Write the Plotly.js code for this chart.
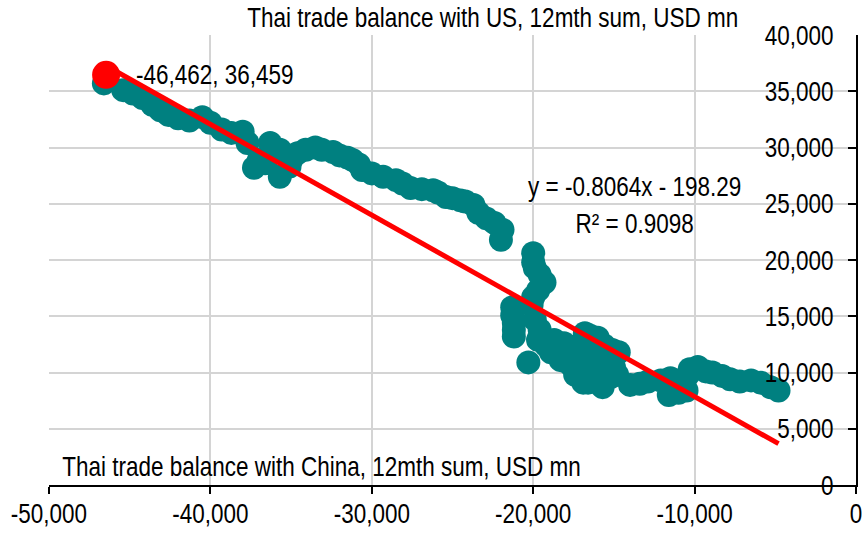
<!DOCTYPE html>
<html><head><meta charset="utf-8">
<script src="https://cdn.plot.ly/plotly-3.0.1.min.js"></script>
<style>html,body{margin:0;padding:0;background:#fff}#chart{width:864px;height:537px}</style>
</head><body><div id="chart"></div>
<script>
// Thai trade balance with China (x) vs with US (y), 12-month sums, USD mn
const chinaBalance = [
  -4800,-5300,-5900,-6500,-7200,-7800,-8300,-8900,-9300,-9800,
  -10300,-10400,-10700,-10500,-11000,-11600,-11600,-11500,-12100,-12900,
  -13400,-14000,-14800,-15200,-15700,-16200,-16600,-16900,-17400,-17100,
  -15000,-15800,-16000,-16500,-17100,-17700,-17900,-18300,-18900,-15500,
  -14700,-15100,-15600,-16000,-16300,-16500,-16800,-17000,-17500,-18100,
  -18500,-18700,-19200,-19700,-20300,-21200,-21200,-21200,-21300,-21300,
  -19600,-19900,-20100,-20000,-19700,-19300,-19600,-19900,-20000,-20000,
  -22000,-21900,-22400,-22900,-23400,-23700,-24200,-24500,-25000,-25400,
  -25900,-26200,-26900,-27600,-28100,-28500,-29300,-30000,-30600,-30800,
  -31200,-31500,-32000,-32400,-33100,-33500,-34100,-34600,-35000,-35100,
  -35700,-35700,-36300,-36600,-37000,-37300,-37700,-38000,-38700,-39300,
  -40000,-40500,-41300,-42000,-42600,-43100,-43600,-44200,-44800,-45400,
  -46600
];
const usBalance = [
  8400,8700,9100,9300,9200,9400,9700,10000,10100,10500,
  10300,9800,9300,8400,8200,8000,8900,9500,9300,9200,
  9000,8900,9800,9600,8700,9300,9100,9100,9800,10200,
  10500,10700,10000,11100,11400,10700,11100,11100,11800,11300,
  11800,12000,12400,13100,12000,13300,13500,11800,12300,12600,
  12200,12900,12400,12900,10900,13200,13800,14400,15100,15800,
  13800,14700,16000,16700,17300,18000,18700,19300,19800,20600,
  21800,22700,23300,23700,24200,24900,25200,25300,25500,25600,
  26000,26200,26300,26400,26800,27100,27400,27700,28000,28500,
  28900,29100,29300,29600,29800,30000,29800,29500,28900,28300,
  27400,29800,30400,28600,28900,28200,30400,31400,31300,31600,
  32200,32700,32400,32600,32900,33300,33800,34400,34800,35100,
  35700
];
const latestChina = [-46462];
const latestUS = [36459];
const trendSlope = -0.8064;
const trendIntercept = -198.29;
const trendR2 = 0.9098;
const xTickVals = [-50000,-40000,-30000,-20000,-10000,0];
const xTickText = ['-50,000','-40,000','-30,000','-20,000','-10,000','0'];
const yTickVals = [0,5000,10000,15000,20000,25000,30000,35000,40000];
const yTickText = ['0','5,000','10,000','15,000','20,000','25,000','30,000','35,000','40,000'];
const xTitle = 'Thai trade balance with China, 12mth sum, USD mn';
const yTitle = 'Thai trade balance with US, 12mth sum, USD mn';

const FONT = "'Liberation Sans', Arial, sans-serif";
const FS = 22.5;
const TEXT_STRETCH = 1.24; // reference uses a tall, narrow sans face

const allX = chinaBalance.concat(latestChina);
const tMin = Math.min.apply(null, allX), tMax = Math.max.apply(null, allX);
const trendX = [tMin, tMax];
const trendY = trendX.map(v => trendSlope * v + trendIntercept);

const fmt = v => v.toLocaleString('en-US');
const eqText = 'y = ' + trendSlope.toFixed(4) + 'x - ' + Math.abs(trendIntercept).toFixed(2) +
  '<br>R² = ' + trendR2.toFixed(4);

const traces = [
  {x: chinaBalance, y: usBalance, type: 'scatter', mode: 'markers',
   marker: {color: '#008080', size: 24, line: {width: 0}}, cliponaxis: false, hoverinfo: 'skip'},
  {x: trendX, y: trendY, type: 'scatter', mode: 'lines',
   line: {color: '#ff0000', width: 5}, hoverinfo: 'skip'},
  {x: latestChina, y: latestUS, type: 'scatter', mode: 'markers',
   marker: {color: '#ff0000', size: 28, line: {width: 0}}, cliponaxis: false, hoverinfo: 'skip'}
];

const layout = {
  width: 864, height: 537,
  margin: {l: 49, r: 8, t: 35, b: 52},
  paper_bgcolor: '#ffffff', plot_bgcolor: '#ffffff',
  showlegend: false, hovermode: false,
  font: {family: FONT, size: FS, color: '#000000'},
  xaxis: {
    range: [-50000, 0], tickmode: 'array', tickvals: xTickVals, ticktext: xTickText,
    showgrid: true, gridcolor: '#d4d4d4', gridwidth: 2, zeroline: false,
    showline: true, linecolor: '#000000', linewidth: 2,
    ticks: 'outside', ticklen: 7, tickwidth: 2, tickcolor: '#000000',
    tickfont: {family: FONT, size: FS, color: '#000000'}, fixedrange: true
  },
  yaxis: {
    side: 'right', range: [0, 40000], tickmode: 'array', tickvals: yTickVals, ticktext: yTickText,
    showgrid: true, gridcolor: '#d4d4d4', gridwidth: 2, zeroline: false,
    showline: true, linecolor: '#000000', linewidth: 2,
    ticks: 'inside', ticklen: 8, tickwidth: 2, tickcolor: '#000000',
    ticklabelposition: 'inside', ticklabeloverflow: 'allow', ticklabelstandoff: 16,
    tickfont: {family: FONT, size: FS, color: '#000000'}, fixedrange: true
  },
  annotations: [
    {xref: 'paper', yref: 'paper', x: 0.5496, y: 1.0378, xanchor: 'center', yanchor: 'middle',
     text: yTitle, showarrow: false, font: {family: FONT, size: FS, color: '#000'}},
    {xref: 'paper', yref: 'paper', x: 0.0136, y: 0.042, xanchor: 'left', yanchor: 'middle',
     text: xTitle, showarrow: false, font: {family: FONT, size: FS, color: '#000'}},
    {xref: 'x', yref: 'y', x: latestChina[0], y: latestUS[0], xanchor: 'left', yanchor: 'middle',
     xshift: 28, text: fmt(latestChina[0]) + ', ' + fmt(latestUS[0]), showarrow: false,
     font: {family: FONT, size: FS, color: '#000'}},
    {xref: 'paper', yref: 'paper', x: 0.726, y: 0.622, xanchor: 'center', yanchor: 'middle', align: 'center',
     text: eqText, showarrow: false, font: {family: FONT, size: FS, color: '#000'}}
  ]
};

Plotly.newPlot('chart', traces, layout, {staticPlot: true, displayModeBar: false}).then(function (gd) {
  gd.querySelectorAll('svg text').forEach(function (t) {
    let b;
    try { b = t.getBBox(); } catch (e) { return; }
    if (!b || !b.width) return;
    const cx = b.x + b.width / 2, cy = b.y + b.height / 2;
    const tr = t.getAttribute('transform') || '';
    t.setAttribute('transform', tr + ' translate(' + cx + ',' + cy + ') scale(1,' + TEXT_STRETCH + ') translate(' + (-cx) + ',' + (-cy) + ')');
  });
});
</script>
</body></html>
